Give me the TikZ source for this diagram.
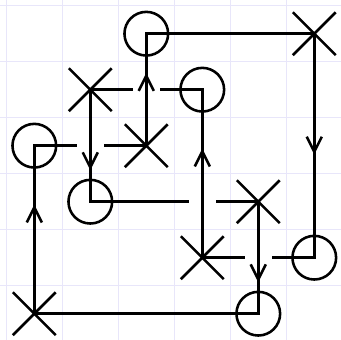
\documentclass[tikz,border=0pt]{standalone}
\usepackage{tikz}
\usetikzlibrary{
  calc,
  arrows.meta,
  shapes.misc,
  decorations.markings}
\definecolor{gridlav}{RGB}{232,230,250}

\begin{document}
\begin{tikzpicture}[
  omark/.style={circle,draw,line width=1.3pt,minimum size=0.78cm,inner sep=0pt},
  xmark/.style={cross out,draw,line width=1.3pt,minimum size=0.72cm,inner sep=0pt},
  strand/.style={line width=1.3pt,line cap=rect},
  vstrand/.style={strand,postaction={decorate},
    decoration={markings,mark=at position #1 with {\arrow{Straight Barb[length=2.7mm,width=2.7mm,line width=1.3pt]}}}}
]%
  \useasboundingbox (-0.1125,0.031) rectangle (5.977,6.102);

  % Grid
  \draw[step=1cm,gridlav,line width=0.5pt] (-0.1125,0.031) grid (5.977,6.102);

  % Circles
  \node[omark] (o0) at (0.5,3.5) {};
  \node[omark] (o1) at (1.5,2.5) {};
  \node[omark] (o2) at (2.5,5.5) {};
  \node[omark] (o3) at (3.5,4.5) {};
  \node[omark] (o4) at (4.5,0.5) {};
  \node[omark] (o5) at (5.5,1.5) {};

  % Crosses
  \node[xmark] (x0) at (0.5,0.5) {};
  \node[xmark] (x1) at (1.5,4.5) {};
  \node[xmark] (x2) at (2.5,3.5) {};
  \node[xmark] (x3) at (3.5,1.5) {};
  \node[xmark] (x4) at (4.5,2.5) {};
  \node[xmark] (x5) at (5.5,5.5) {};

  % Horizontal strands (broken under the vertical ones)
  \draw[strand] (o2.center) -- (x5.center);
  \draw[strand] (x1.center) -- ($(x1.center)!(o2.center)!(o3.center)+(-0.26,0)$);
  \draw[strand] ($(x1.center)!(o2.center)!(o3.center)+(0.26,0)$) -- (o3.center);
  \draw[strand] (o0.center) -- ($(o0.center)!(x1.center)!(x2.center)+(-0.26,0)$);
  \draw[strand] ($(o0.center)!(x1.center)!(x2.center)+(0.26,0)$) -- (x2.center);
  \draw[strand] (o1.center) -- ($(o1.center)!(x3.center)!(x4.center)+(-0.26,0)$);
  \draw[strand] ($(o1.center)!(x3.center)!(x4.center)+(0.26,0)$) -- (x4.center);
  \draw[strand] (x3.center) -- ($(x3.center)!(x4.center)!(o5.center)+(-0.26,0)$);
  \draw[strand] ($(x3.center)!(x4.center)!(o5.center)+(0.26,0)$) -- (o5.center);
  \draw[strand] (x0.center) -- (o4.center);

  % Vertical strands, from cross to circle
  \draw[vstrand=0.65] (x0.center) -- (o0.center);
  \draw[vstrand=0.72] (x1.center) -- (o1.center);
  \draw[vstrand=0.65] (x2.center) -- (o2.center);
  \draw[vstrand=0.65] (x3.center) -- (o3.center);
  \draw[vstrand=0.72] (x4.center) -- (o4.center);
  \draw[vstrand=0.54] (x5.center) -- (o5.center);
\end{tikzpicture}
\end{document}
